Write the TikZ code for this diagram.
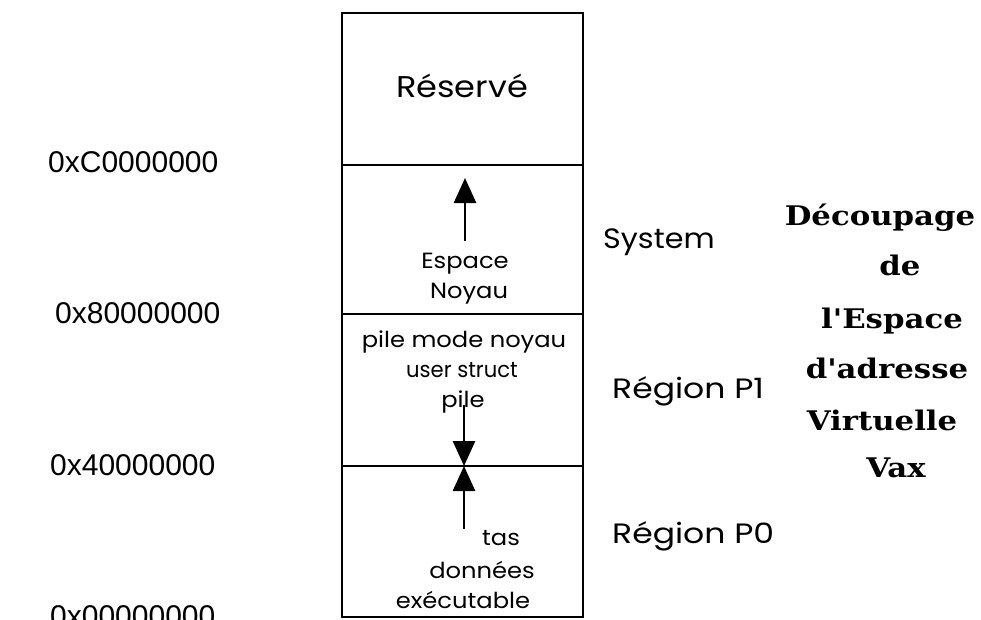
\documentclass[tikz,border=0pt]{standalone}
\usepackage{fontspec}
\usepackage{graphicx}
\usetikzlibrary{arrows.meta}
\newfontfamily\geo{Poppins}
\newfontfamily\ari{Liberation Sans}
\newfontfamily\ttl{DejaVu Serif}[Ligatures=TeXOff]
\newcommand{\widen}[2]{\scalebox{#1}[1]{#2}}
\begin{document}
\begin{tikzpicture}[x=1pt,y=-1pt,
  cell/.style={draw,line width=2.7pt,minimum width=241pt,inner sep=0pt,outer sep=0pt},
  arr/.style={line width=2.7pt,-{Triangle[length=25pt,width=22pt]}},
  txt/.style={inner sep=0pt,anchor=base},
  inbox/.style={txt,font=\geo\fontsize{22}{26}\selectfont},
  hex/.style={txt,anchor=base west,font=\ari\fontsize{30}{36}\selectfont},
  reg/.style={txt,anchor=base west,font=\geo\fontsize{28}{32}\selectfont},
  ttlline/.style={txt,font=\ttl\bfseries\fontsize{27}{32}\selectfont}]
\useasboundingbox (0,0) rectangle (981,619);
% memory cells
\node[cell,minimum height=152pt] (res) at (462.5,89) {};
\node[cell,minimum height=149pt] (sys) at (462.5,239.5) {};
\node[cell,minimum height=152pt] (p1) at (462.5,390) {};
\node[cell,minimum height=151pt] (p0) at (462.5,541.5) {};
% texts in cells
\node[txt,font=\geo\fontsize{30}{34}\selectfont] (tres) at (462,97) {\widen{1.12}{Réservé}};
\node[inbox] (tesp) at (465,268) {\widen{1.1}{Espace}};
\node[inbox] (tnoy) at (469,298) {\widen{1.1}{Noyau}};
\node[inbox] (tpmn) at (464,347) {\widen{1.1}{pile mode noyau}};
\node[inbox] (tus) at (462,377) {\widen{0.96}{user struct}};
\node[inbox] (tpile) at (463,407) {\widen{1.1}{pile}};
\node[inbox] (ttas) at (501,545) {\widen{1.1}{tas}};
\node[inbox] (tdon) at (482,578) {\widen{1.1}{données}};
\node[inbox] (texe) at (463,608) {\widen{1.1}{exécutable}};
% arrows
\coordinate (a1s) at (465,241);
\coordinate (a1e) at (465,178);
\coordinate (a2s) at (464,405);
\coordinate (a2e) at (464,466);
\coordinate (a3s) at (464,529);
\coordinate (a3e) at (464,466);
\draw[arr] (a1s) -- (a1e);
\draw[arr] (a2s) -- (a2e);
\draw[arr] (a3s) -- (a3e);
% addresses
\node[hex] (hC) at (48,172) {0xC0000000};
\node[hex] (h8) at (55,323) {0x80000000};
\node[hex] (h4) at (50,475) {0x40000000};
\node[hex] (h0) at (50,626) {0x00000000};
% regions
\node[reg] (rsys) at (603,248) {\widen{1.08}{System}};
\node[reg] (rp1) at (612,398) {\widen{1.18}{Région P1}};
\node[reg] (rp0) at (612,543) {\widen{1.18}{Région P0}};
% title
\node[ttlline] (l1) at (880,225) {\widen{1.14}{Découpage}};
\node[ttlline] (l2) at (900,275) {\widen{1.14}{de}};
\node[ttlline] (l3) at (892,328) {\widen{1.14}{l'Espace}};
\node[ttlline] (l4) at (887,378) {\widen{1.14}{d'adresse}};
\node[ttlline] (l5) at (882,430) {\widen{1.14}{Virtuelle}};
\node[ttlline] (l6) at (896,477) {\widen{1.14}{Vax}};
\end{tikzpicture}
\end{document}
